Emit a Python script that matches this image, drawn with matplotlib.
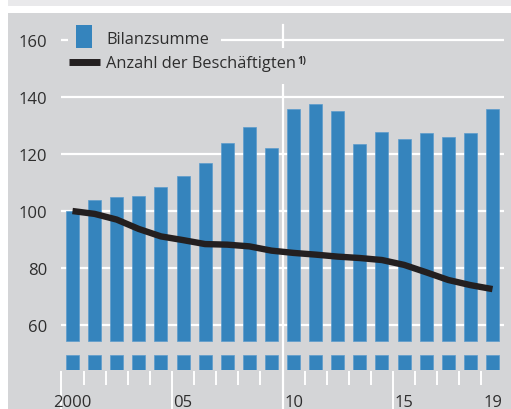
import matplotlib
matplotlib.use('Agg')
import matplotlib.pyplot as plt
from matplotlib.patches import Rectangle
from matplotlib.lines import Line2D
import numpy as np

plt.rcParams['font.family'] = ['Open Sans', 'DejaVu Sans']

years = list(range(2000, 2020))
bilanzsumme = [100.0, 103.9, 104.8, 105.3, 108.3, 112.2, 116.8, 123.9, 129.4, 122.1,
               135.8, 137.6, 135.1, 123.6, 127.7, 125.3, 127.4, 126.1, 127.3, 135.8]
beschaeftigte = [100.0, 99.0, 97.0, 93.7, 91.1, 89.8, 88.4, 88.2, 87.6, 86.1,
                 85.3, 84.7, 84.0, 83.5, 82.8, 81.1, 78.5, 75.8, 74.0, 72.6]
yticks = [60, 80, 100, 120, 140, 160]
xlabels = {2000: '2000', 2005: '05', 2010: '10', 2015: '15', 2019: '19'}
leg_bars = 'Bilanzsumme'
leg_line = 'Anzahl der Beschäftigten'

W, H = 511, 410
BG = '#d4d5d7'
BLUE = '#3584bd'
TXT = '#2e2e2e'

def fx(x):
    return x / W

def fy(y):
    return 1 - y / H

fig = plt.figure(figsize=(W / 100, H / 100), dpi=100)
fig.patch.set_facecolor('white')
# grey panel and the thin strip above it
fig.patches.append(Rectangle((fx(8), fy(410)), fx(503), 396 / H, transform=fig.transFigure,
                             facecolor=BG, edgecolor='none', zorder=-10))
fig.patches.append(Rectangle((fx(8), fy(7)), fx(503), 7 / H, transform=fig.transFigure,
                             facecolor='#e9e9eb', edgecolor='none', zorder=-10))

ax = fig.add_axes([fx(61), 39 / H, 443 / W, 345 / H])
ax.set_facecolor('none')
for s in ax.spines.values():
    s.set_visible(False)

x = np.arange(len(years))
ax.set_xlim(-0.52, len(years) - 0.48)
ax.set_ylim(44.2, 165.3)

cut_top = 54.5     # where the bars are cut
stub = (44.2, 49.5)  # small stubs below the axis break

for v in yticks:
    ax.axhline(v, color='white', lw=1.6, zorder=1)

vals = np.array(bilanzsumme)
ax.bar(x, vals - cut_top, bottom=cut_top, width=0.59, color=BLUE,
       edgecolor='#5d9ccc', linewidth=0.5, zorder=2)
ax.bar(x, stub[1] - stub[0], bottom=stub[0], width=0.59, color=BLUE,
       edgecolor='#5d9ccc', linewidth=0.5, zorder=2)

ax.plot(x, beschaeftigte, color='#231f20', lw=4.6, solid_joinstyle='round',
        solid_capstyle='butt', zorder=4)

# year separators below the plot
for i, yr in enumerate(years):
    major = yr in (2000, 2005, 2010, 2015)
    ax.plot([i - 0.5, i - 0.5], [43.9, 30.0 if major else 38.9], color='white',
            lw=1.4, clip_on=False, zorder=3, solid_capstyle='butt')
ax.plot([9.5, 9.5], [30.0, 165.3], color='white', lw=1.6, clip_on=False, zorder=1)

for yr, lab in xlabels.items():
    ax.text(years.index(yr), 31.6, lab, ha='center', va='baseline', fontsize=12,
            color=TXT, clip_on=False)

ax.set_xticks([])
ax.set_yticks(yticks)
ax.set_yticklabels([str(v) for v in yticks], fontsize=12, color=TXT)
ax.tick_params(axis='y', length=0, pad=10)

# legend
fig.patches.append(Rectangle((fx(68), fy(50)), fx(153), 20 / H, transform=fig.transFigure,
                             facecolor=BG, edgecolor='none', zorder=5))
fig.patches.append(Rectangle((fx(68), fy(85)), fx(257), 36 / H, transform=fig.transFigure,
                             facecolor=BG, edgecolor='none', zorder=5))
fig.patches.append(Rectangle((fx(76), fy(49)), fx(16), 23 / H, transform=fig.transFigure,
                             facecolor=BLUE, edgecolor='none', zorder=6))
fig.lines.append(Line2D([fx(69), fx(100)], [fy(62.5), fy(62.5)], transform=fig.transFigure,
                        color='#231f20', lw=5.0, solid_capstyle='butt', zorder=6))
fig.text(fx(106), fy(44.3), leg_bars, fontsize=11.8, color=TXT, va='baseline', zorder=7)
t2 = fig.text(fx(106), fy(68.3), leg_line, fontsize=11.8, color=TXT, va='baseline', zorder=7)
fig.canvas.draw()
bb = t2.get_window_extent()
fig.text((bb.x1 + 1) / W, fy(56), '1)', fontsize=7, color=TXT, va='top', ha='left',
         fontweight='bold', zorder=7)

fig.savefig('out.png', dpi=100)
